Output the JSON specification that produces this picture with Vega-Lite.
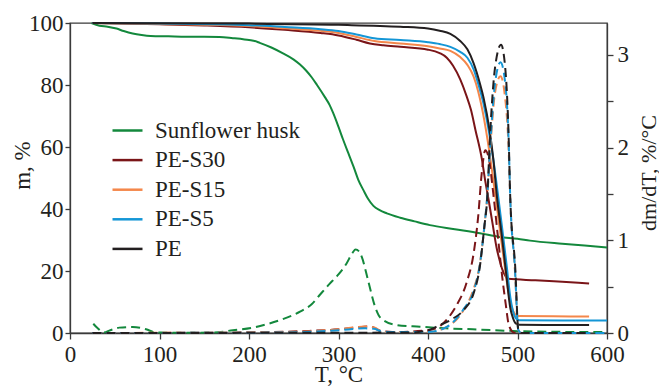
{
  "$schema": "https://vega.github.io/schema/vega-lite/v6.json",
  "width": 537,
  "height": 310,
  "autosize": {"type": "none"},
  "padding": {"left": 70, "top": 23, "right": 52, "bottom": 54},
  "background": "white",
  "config": {
    "font": "Liberation Serif",
    "view": {"stroke": "#3a3a3a", "strokeWidth": 1.3},
    "axis": {"domainColor": "#3a3a3a", "tickColor": "#3a3a3a", "labelColor": "#231f20", "titleColor": "#231f20", "labelFont": "Liberation Serif", "titleFont": "Liberation Serif", "labelFontSize": 23, "titleFontSize": 23, "titleFontWeight": "normal", "grid": false, "tickSize": 6, "domainWidth": 1.3, "tickWidth": 1.3, "labelFlush": false}
  },
  "datasets": {
    "tga": [
      {"s":"Sunflower husk","T":24,"m":100},{"s":"Sunflower husk","T":33,"m":99.1},{"s":"Sunflower husk","T":42,"m":98.8},{"s":"Sunflower husk","T":52,"m":98.2},{"s":"Sunflower husk","T":60,"m":97.4},{"s":"Sunflower husk","T":70,"m":96.6},{"s":"Sunflower husk","T":80,"m":96.1},{"s":"Sunflower husk","T":90,"m":95.8},{"s":"Sunflower husk","T":110,"m":95.7},{"s":"Sunflower husk","T":130,"m":95.6},{"s":"Sunflower husk","T":150,"m":95.6},{"s":"Sunflower husk","T":167,"m":95.5},{"s":"Sunflower husk","T":182,"m":95.1},{"s":"Sunflower husk","T":195,"m":94.7},{"s":"Sunflower husk","T":205,"m":94.3},{"s":"Sunflower husk","T":212,"m":93.6},{"s":"Sunflower husk","T":225,"m":92.1},{"s":"Sunflower husk","T":238,"m":90.2},{"s":"Sunflower husk","T":250,"m":88.2},{"s":"Sunflower husk","T":257,"m":86.6},{"s":"Sunflower husk","T":264,"m":84.6},{"s":"Sunflower husk","T":270,"m":82.5},{"s":"Sunflower husk","T":276,"m":80},{"s":"Sunflower husk","T":285,"m":76},{"s":"Sunflower husk","T":290,"m":73.6},{"s":"Sunflower husk","T":294,"m":71},{"s":"Sunflower husk","T":300,"m":66.5},{"s":"Sunflower husk","T":305,"m":62.5},{"s":"Sunflower husk","T":311,"m":58},{"s":"Sunflower husk","T":317,"m":53.5},{"s":"Sunflower husk","T":322,"m":49.5},{"s":"Sunflower husk","T":328,"m":46},{"s":"Sunflower husk","T":333,"m":43.3},{"s":"Sunflower husk","T":339,"m":41},{"s":"Sunflower husk","T":346,"m":39.6},{"s":"Sunflower husk","T":354,"m":38.6},{"s":"Sunflower husk","T":369,"m":37.2},{"s":"Sunflower husk","T":385,"m":36},{"s":"Sunflower husk","T":402,"m":34.8},{"s":"Sunflower husk","T":430,"m":33.5},{"s":"Sunflower husk","T":458,"m":32.2},{"s":"Sunflower husk","T":480,"m":31},{"s":"Sunflower husk","T":500,"m":30.4},{"s":"Sunflower husk","T":514,"m":29.8},{"s":"Sunflower husk","T":550,"m":28.8},{"s":"Sunflower husk","T":575,"m":28.2},{"s":"Sunflower husk","T":600,"m":27.6},
      {"s":"PE-S30","T":25,"m":100},{"s":"PE-S30","T":100,"m":99.6},{"s":"PE-S30","T":150,"m":99.2},{"s":"PE-S30","T":200,"m":98.6},{"s":"PE-S30","T":240,"m":97.8},{"s":"PE-S30","T":280,"m":96.8},{"s":"PE-S30","T":300,"m":96},{"s":"PE-S30","T":320,"m":94.6},{"s":"PE-S30","T":335,"m":93.4},{"s":"PE-S30","T":350,"m":92.8},{"s":"PE-S30","T":369,"m":92.3},{"s":"PE-S30","T":400,"m":91.4},{"s":"PE-S30","T":413,"m":90.3},{"s":"PE-S30","T":421,"m":88.8},{"s":"PE-S30","T":428,"m":86.2},{"s":"PE-S30","T":436,"m":81.8},{"s":"PE-S30","T":443,"m":76.5},{"s":"PE-S30","T":448,"m":72},{"s":"PE-S30","T":453,"m":65.5},{"s":"PE-S30","T":460,"m":56.4},{"s":"PE-S30","T":464,"m":49},{"s":"PE-S30","T":468,"m":42.5},{"s":"PE-S30","T":472,"m":35.5},{"s":"PE-S30","T":477,"m":27},{"s":"PE-S30","T":480,"m":23.5},{"s":"PE-S30","T":483,"m":20.5},{"s":"PE-S30","T":486,"m":18.6},{"s":"PE-S30","T":489,"m":17.5},{"s":"PE-S30","T":520,"m":17},{"s":"PE-S30","T":550,"m":16.5},{"s":"PE-S30","T":580,"m":16},
      {"s":"PE-S15","T":25,"m":100},{"s":"PE-S15","T":100,"m":99.7},{"s":"PE-S15","T":200,"m":99},{"s":"PE-S15","T":240,"m":98.3},{"s":"PE-S15","T":280,"m":97.5},{"s":"PE-S15","T":300,"m":96.8},{"s":"PE-S15","T":320,"m":95.5},{"s":"PE-S15","T":340,"m":94.2},{"s":"PE-S15","T":369,"m":93.4},{"s":"PE-S15","T":400,"m":92.5},{"s":"PE-S15","T":413,"m":91.8},{"s":"PE-S15","T":425,"m":91},{"s":"PE-S15","T":436,"m":89},{"s":"PE-S15","T":444,"m":86.5},{"s":"PE-S15","T":451,"m":82.7},{"s":"PE-S15","T":456,"m":78},{"s":"PE-S15","T":460,"m":73},{"s":"PE-S15","T":466,"m":63.3},{"s":"PE-S15","T":470,"m":55.5},{"s":"PE-S15","T":475,"m":45},{"s":"PE-S15","T":480,"m":34},{"s":"PE-S15","T":485,"m":23},{"s":"PE-S15","T":490,"m":13},{"s":"PE-S15","T":494,"m":8},{"s":"PE-S15","T":497,"m":6.2},{"s":"PE-S15","T":500,"m":5.5},{"s":"PE-S15","T":540,"m":5.4},{"s":"PE-S15","T":580,"m":5.3},
      {"s":"PE-S5","T":25,"m":100},{"s":"PE-S5","T":100,"m":99.8},{"s":"PE-S5","T":200,"m":99.3},{"s":"PE-S5","T":240,"m":98.7},{"s":"PE-S5","T":280,"m":98},{"s":"PE-S5","T":300,"m":97.4},{"s":"PE-S5","T":320,"m":96.3},{"s":"PE-S5","T":340,"m":95.1},{"s":"PE-S5","T":369,"m":94.5},{"s":"PE-S5","T":400,"m":93.8},{"s":"PE-S5","T":413,"m":93.2},{"s":"PE-S5","T":425,"m":92.3},{"s":"PE-S5","T":436,"m":90.7},{"s":"PE-S5","T":444,"m":88.8},{"s":"PE-S5","T":451,"m":85},{"s":"PE-S5","T":456,"m":80.5},{"s":"PE-S5","T":462,"m":74},{"s":"PE-S5","T":469,"m":63.3},{"s":"PE-S5","T":473,"m":56},{"s":"PE-S5","T":478,"m":45},{"s":"PE-S5","T":483,"m":33.5},{"s":"PE-S5","T":488,"m":21.5},{"s":"PE-S5","T":492,"m":11.5},{"s":"PE-S5","T":495,"m":7},{"s":"PE-S5","T":498,"m":4.8},{"s":"PE-S5","T":502,"m":4.1},{"s":"PE-S5","T":550,"m":4},{"s":"PE-S5","T":600,"m":4},
      {"s":"PE","T":25,"m":100},{"s":"PE","T":100,"m":99.95},{"s":"PE","T":200,"m":99.8},{"s":"PE","T":300,"m":99.4},{"s":"PE","T":369,"m":98.8},{"s":"PE","T":400,"m":98.2},{"s":"PE","T":413,"m":97.5},{"s":"PE","T":425,"m":96.5},{"s":"PE","T":436,"m":94.2},{"s":"PE","T":444,"m":91.5},{"s":"PE","T":451,"m":87},{"s":"PE","T":458,"m":80.5},{"s":"PE","T":462,"m":76},{"s":"PE","T":469,"m":65},{"s":"PE","T":473,"m":56},{"s":"PE","T":477,"m":44},{"s":"PE","T":482,"m":32.5},{"s":"PE","T":487,"m":20},{"s":"PE","T":492,"m":8},{"s":"PE","T":495,"m":4.8},{"s":"PE","T":498,"m":3.1},{"s":"PE","T":502,"m":2.7},{"s":"PE","T":540,"m":2.6},{"s":"PE","T":580,"m":2.6}
    ],
    "dtg": [
      {"s":"Sunflower husk","T":26,"d":0.1},{"s":"Sunflower husk","T":31,"d":0.05},{"s":"Sunflower husk","T":38,"d":0.005},{"s":"Sunflower husk","T":45,"d":0.03},{"s":"Sunflower husk","T":55,"d":0.058},{"s":"Sunflower husk","T":70,"d":0.065},{"s":"Sunflower husk","T":85,"d":0.04},{"s":"Sunflower husk","T":96,"d":0.005},{"s":"Sunflower husk","T":130,"d":0.003},{"s":"Sunflower husk","T":160,"d":0.005},{"s":"Sunflower husk","T":182,"d":0.03},{"s":"Sunflower husk","T":205,"d":0.06},{"s":"Sunflower husk","T":220,"d":0.095},{"s":"Sunflower husk","T":235,"d":0.14},{"s":"Sunflower husk","T":257,"d":0.23},{"s":"Sunflower husk","T":270,"d":0.31},{"s":"Sunflower husk","T":279,"d":0.41},{"s":"Sunflower husk","T":290,"d":0.53},{"s":"Sunflower husk","T":298,"d":0.61},{"s":"Sunflower husk","T":309,"d":0.75},{"s":"Sunflower husk","T":316,"d":0.87},{"s":"Sunflower husk","T":319,"d":0.9},{"s":"Sunflower husk","T":323,"d":0.88},{"s":"Sunflower husk","T":326,"d":0.82},{"s":"Sunflower husk","T":333,"d":0.57},{"s":"Sunflower husk","T":341,"d":0.28},{"s":"Sunflower husk","T":345,"d":0.19},{"s":"Sunflower husk","T":350,"d":0.14},{"s":"Sunflower husk","T":365,"d":0.086},{"s":"Sunflower husk","T":391,"d":0.068},{"s":"Sunflower husk","T":420,"d":0.05},{"s":"Sunflower husk","T":450,"d":0.04},{"s":"Sunflower husk","T":500,"d":0.02},{"s":"Sunflower husk","T":550,"d":0.012},{"s":"Sunflower husk","T":600,"d":0.01},
      {"s":"PE-S30","T":25,"d":0},{"s":"PE-S30","T":200,"d":0.005},{"s":"PE-S30","T":260,"d":0.02},{"s":"PE-S30","T":300,"d":0.04},{"s":"PE-S30","T":320,"d":0.06},{"s":"PE-S30","T":335,"d":0.07},{"s":"PE-S30","T":345,"d":0.03},{"s":"PE-S30","T":360,"d":0.01},{"s":"PE-S30","T":400,"d":0.03},{"s":"PE-S30","T":414,"d":0.08},{"s":"PE-S30","T":424,"d":0.18},{"s":"PE-S30","T":432,"d":0.3},{"s":"PE-S30","T":443,"d":0.54},{"s":"PE-S30","T":451,"d":0.86},{"s":"PE-S30","T":456,"d":1.25},{"s":"PE-S30","T":460,"d":1.72},{"s":"PE-S30","T":464,"d":1.97},{"s":"PE-S30","T":468,"d":1.88},{"s":"PE-S30","T":473,"d":1.5},{"s":"PE-S30","T":478,"d":1.05},{"s":"PE-S30","T":483,"d":0.6},{"s":"PE-S30","T":487,"d":0.3},{"s":"PE-S30","T":490,"d":0.1},{"s":"PE-S30","T":495,"d":0.01},{"s":"PE-S30","T":500,"d":0},{"s":"PE-S30","T":580,"d":0},
      {"s":"PE-S15","T":25,"d":0},{"s":"PE-S15","T":240,"d":0.01},{"s":"PE-S15","T":300,"d":0.04},{"s":"PE-S15","T":330,"d":0.07},{"s":"PE-S15","T":340,"d":0.06},{"s":"PE-S15","T":350,"d":0.01},{"s":"PE-S15","T":400,"d":0.01},{"s":"PE-S15","T":420,"d":0.06},{"s":"PE-S15","T":440,"d":0.25},{"s":"PE-S15","T":450,"d":0.45},{"s":"PE-S15","T":458,"d":0.75},{"s":"PE-S15","T":463,"d":1.15},{"s":"PE-S15","T":466,"d":1.45},{"s":"PE-S15","T":470,"d":2.05},{"s":"PE-S15","T":475,"d":2.6},{"s":"PE-S15","T":481,"d":2.77},{"s":"PE-S15","T":486,"d":2.55},{"s":"PE-S15","T":490,"d":2.0},{"s":"PE-S15","T":492,"d":1.43},{"s":"PE-S15","T":497,"d":0.7},{"s":"PE-S15","T":501,"d":0.03},{"s":"PE-S15","T":505,"d":0},{"s":"PE-S15","T":580,"d":0},
      {"s":"PE-S5","T":25,"d":0},{"s":"PE-S5","T":240,"d":0.005},{"s":"PE-S5","T":300,"d":0.03},{"s":"PE-S5","T":330,"d":0.05},{"s":"PE-S5","T":340,"d":0.045},{"s":"PE-S5","T":350,"d":0.01},{"s":"PE-S5","T":400,"d":0.01},{"s":"PE-S5","T":420,"d":0.06},{"s":"PE-S5","T":440,"d":0.26},{"s":"PE-S5","T":451,"d":0.45},{"s":"PE-S5","T":458,"d":0.74},{"s":"PE-S5","T":463,"d":1.15},{"s":"PE-S5","T":466,"d":1.45},{"s":"PE-S5","T":470,"d":2.1},{"s":"PE-S5","T":475,"d":2.7},{"s":"PE-S5","T":481,"d":2.92},{"s":"PE-S5","T":486,"d":2.72},{"s":"PE-S5","T":490,"d":2.1},{"s":"PE-S5","T":492,"d":1.43},{"s":"PE-S5","T":497,"d":0.72},{"s":"PE-S5","T":501,"d":0.03},{"s":"PE-S5","T":505,"d":0},{"s":"PE-S5","T":600,"d":0},
      {"s":"PE","T":25,"d":0},{"s":"PE","T":380,"d":0.005},{"s":"PE","T":400,"d":0.03},{"s":"PE","T":412,"d":0.08},{"s":"PE","T":425,"d":0.14},{"s":"PE","T":440,"d":0.25},{"s":"PE","T":451,"d":0.43},{"s":"PE","T":458,"d":0.72},{"s":"PE","T":463,"d":1.15},{"s":"PE","T":466,"d":1.43},{"s":"PE","T":469.5,"d":2.16},{"s":"PE","T":475,"d":2.87},{"s":"PE","T":481.6,"d":3.11},{"s":"PE","T":486.2,"d":2.87},{"s":"PE","T":490,"d":2.15},{"s":"PE","T":492,"d":1.43},{"s":"PE","T":497.4,"d":0.72},{"s":"PE","T":501,"d":0.03},{"s":"PE","T":505,"d":0},{"s":"PE","T":580,"d":0}
    ]
  },
  "layer": [
    {
      "data": {"name": "tga"},
      "mark": {"type": "line", "strokeWidth": 2, "interpolate": "monotone"},
      "encoding": {
        "x": {"field": "T", "type": "quantitative", "scale": {"domain": [0, 600], "nice": false},
          "axis": {"values": [0, 100, 200, 300, 400, 500, 600], "title": "T, °C", "labelPadding": 4, "titleY": 48, "titleBaseline": "alphabetic"}},
        "y": {"field": "m", "type": "quantitative", "scale": {"domain": [0, 100], "nice": false},
          "axis": {"values": [0, 20, 40, 60, 80, 100], "title": "m, %", "tickSize": 5, "labelPadding": 2, "titleX": -48, "titleY": 142, "titleBaseline": "middle", "titleAngle": -90}},
        "color": {"field": "s", "type": "nominal",
          "scale": {"domain": ["Sunflower husk", "PE-S30", "PE-S15", "PE-S5", "PE"], "range": ["#13883c", "#7a1518", "#f4874b", "#1496d6", "#231f20"]},
          "legend": {"title": null, "orient": "none", "legendX": 41, "legendY": 91, "padding": 0, "symbolType": "stroke", "symbolSize": 900, "symbolStrokeWidth": 2.5, "labelFont": "Liberation Serif", "labelFontSize": 23, "labelColor": "#231f20", "labelOffset": 11, "rowPadding": 0.6}}
      }
    },
    {
      "data": {"name": "dtg"},
      "mark": {"type": "line", "strokeWidth": 2, "strokeDash": [9, 5], "interpolate": "monotone"},
      "encoding": {
        "x": {"field": "T", "type": "quantitative"},
        "y": {"field": "d", "type": "quantitative", "scale": {"domain": [0, 3.344], "nice": false},
          "axis": {"orient": "right", "values": [0, 0.5, 1, 1.5, 2, 2.5, 3], "labelExpr": "datum.value % 1 == 0 ? '' + datum.value : ''", "title": "dm/dT, %/°C", "labelPadding": 4, "titleFontSize": 22, "titleAngle": -90, "titleX": 41, "titleY": 149.5, "titleBaseline": "middle"}},
        "color": {"field": "s", "type": "nominal",
          "scale": {"domain": ["Sunflower husk", "PE-S30", "PE-S15", "PE-S5", "PE"], "range": ["#13883c", "#7a1518", "#f4874b", "#1496d6", "#231f20"]},
          "legend": null}
      }
    }
  ],
  "resolve": {"scale": {"y": "independent", "color": "independent"}}
}
